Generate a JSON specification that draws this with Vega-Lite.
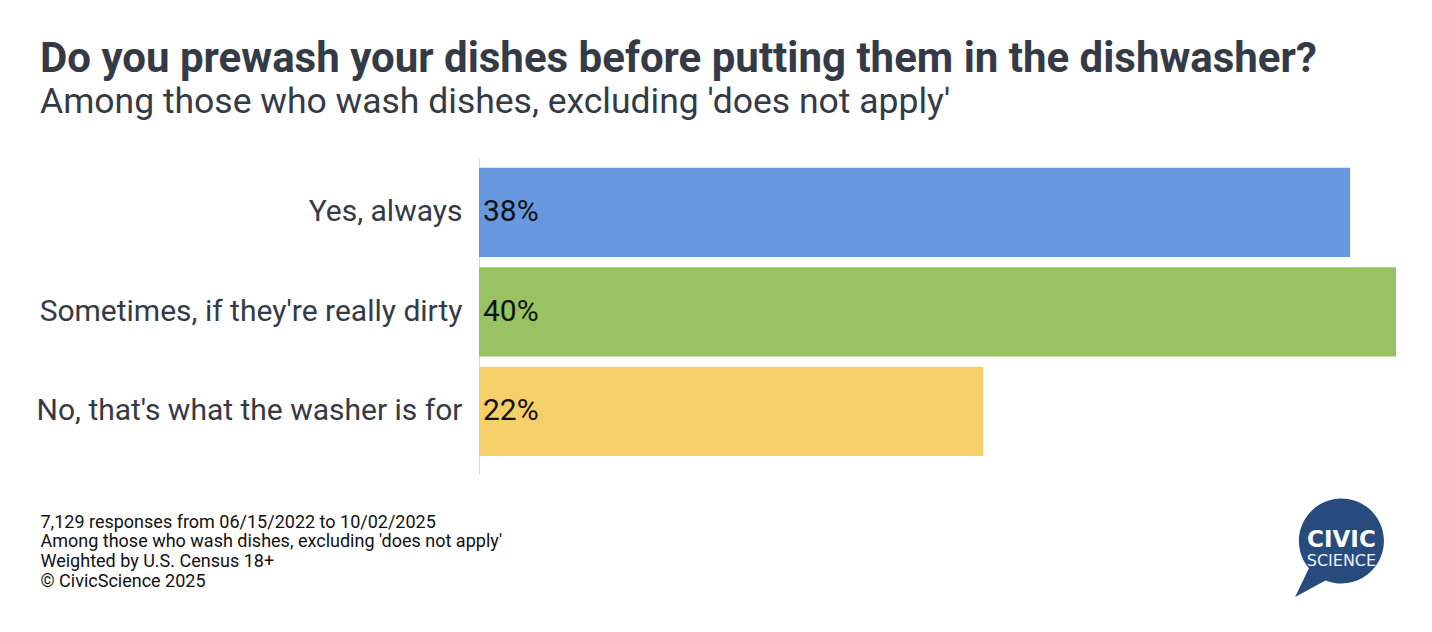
{
  "$schema": "https://vega.github.io/schema/vega-lite/v6.json",
  "width": 917,
  "height": 316,
  "padding": {"left": 36, "top": 38, "right": 36, "bottom": 10},
  "background": "white",
  "title": {
    "text": "Do you prewash your dishes before putting them in the dishwasher?",
    "subtitle": "Among those who wash dishes, excluding 'does not apply'",
    "anchor": "start",
    "frame": "bounds",
    "dx": 4,
    "font": "Roboto",
    "fontSize": 42,
    "fontWeight": "bold",
    "color": "#343a46",
    "subtitleFont": "Roboto",
    "subtitleFontSize": 35.5,
    "subtitleColor": "#343a46",
    "subtitlePadding": 4,
    "offset": 36.5
  },
  "config": {"view": {"stroke": null}},
  "data": {
    "values": [
      {"answer": "Yes, always", "share": 0.38},
      {"answer": "Sometimes, if they're really dirty", "share": 0.40},
      {"answer": "No, that's what the washer is for", "share": 0.22}
    ]
  },
  "layer": [
    {
      "layer": [
        {
          "mark": {"type": "bar"},
          "encoding": {
            "y": {
              "field": "answer",
              "type": "nominal",
              "sort": null,
              "scale": {"paddingInner": 0.1025, "paddingOuter": 0.139, "align": 0.35},
              "axis": {
                "title": null,
                "ticks": false,
                "domainColor": "#d9d9d9",
                "labelFont": "Roboto",
                "labelFontSize": 30,
                "labelColor": "#343a46",
                "labelPadding": 17,
                "labelLimit": 600
              }
            },
            "x": {
              "field": "share",
              "type": "quantitative",
              "scale": {"domain": [0, 0.4], "nice": false},
              "axis": {
                "title": [
                  "7,129 responses from 06/15/2022 to 10/02/2025",
                  "Among those who wash dishes, excluding 'does not apply'",
                  "Weighted by U.S. Census 18+",
                  "© CivicScience 2025"
                ],
                "labels": false,
                "ticks": false,
                "domain": false,
                "grid": false,
                "titleAlign": "left",
                "titleAnchor": "start",
                "titleX": -439,
                "titleY": 39,
                "titleBaseline": "top",
                "titleFont": "Roboto",
                "titleFontSize": 18,
                "titleFontWeight": "normal",
                "titleColor": "#111111",
                "titleLineHeight": 19.7
              }
            },
            "color": {
              "field": "answer",
              "type": "nominal",
              "sort": null,
              "scale": {"range": ["#6797de", "#99c262", "#f5d06a"]},
              "legend": null
            }
          }
        },
        {
          "mark": {"type": "text", "align": "left", "dx": 4, "font": "Roboto", "fontSize": 30, "color": "#111111"},
          "encoding": {
            "y": {"field": "answer", "type": "nominal", "sort": null},
            "x": {"datum": 0, "type": "quantitative"},
            "text": {"field": "share", "type": "quantitative", "format": ".0%"}
          }
        }
      ]
    },
    {
      "data": {"values": [{"brand": "CivicScience"}]},
      "layer": [
        {
          "mark": {
            "type": "point",
            "shape": "M -0.375 0.927 A 1 1 0 1 0 -0.766 0.643 L -1.09 1.32 Z",
            "filled": true,
            "opacity": 1,
            "color": "#274b7d",
            "size": 7225
          },
          "encoding": {
            "x": {"datum": 0.3762, "type": "quantitative"},
            "y": {"datum": -0.212, "type": "quantitative", "scale": {"domain": [0, 1], "nice": false, "zero": false}, "axis": null}
          }
        },
        {
          "mark": {"type": "text", "text": "CIVIC", "font": "DejaVu Sans", "fontWeight": "bold", "fontSize": 23, "color": "white", "baseline": "middle"},
          "encoding": {
            "x": {"datum": 0.3762, "type": "quantitative"},
            "y": {"datum": -0.2073, "type": "quantitative"}
          }
        },
        {
          "mark": {"type": "text", "text": "SCIENCE", "font": "DejaVu Sans", "fontSize": 16, "color": "#eef2f8", "baseline": "middle"},
          "encoding": {
            "x": {"datum": 0.3762, "type": "quantitative"},
            "y": {"datum": -0.275, "type": "quantitative"}
          }
        }
      ]
    }
  ],
  "resolve": {"scale": {"y": "independent"}}
}
